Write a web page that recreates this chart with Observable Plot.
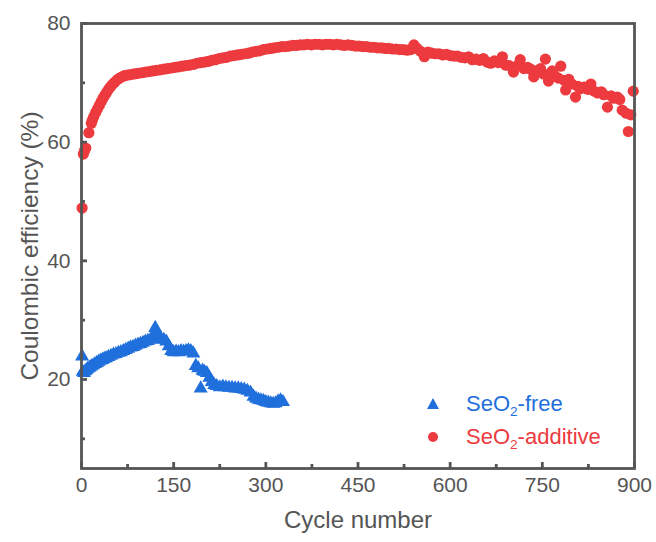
<!DOCTYPE html>
<html>
<head>
<meta charset="utf-8">
<script src="https://cdn.jsdelivr.net/npm/d3@7"></script>
<script src="https://cdn.jsdelivr.net/npm/@observablehq/plot@0.6"></script>
<style>
  html, body { margin: 0; padding: 0; background: #fff; }
  #wrap { position: relative; width: 656px; height: 542px; font-family: "Liberation Sans", Arial, sans-serif; }
  .leg { position: absolute; left: 0; top: 0; font-size: 22px; }
  .row { position: absolute; display: flex; align-items: center; white-space: nowrap; }
  .row sub { font-size: 0.62em; vertical-align: -0.35em; line-height: 0; }
</style>
</head>
<body>
<div id="wrap"></div>
<script>
// Series: SeO2-free (blue triangles)
const freeCycles = [1, 2, 4, 6, 8, 10, 13, 16, 19, 22, 25, 28, 31, 34, 37, 40, 44, 48, 52, 56, 60, 64, 68, 72, 76, 80, 84, 88, 92, 96, 100, 104, 108, 112, 116, 120, 123, 126, 130, 134, 138, 142, 146, 150, 154, 158, 162, 166, 170, 174, 178, 182, 186, 190, 194, 197, 200, 204, 208, 212, 216, 220, 225, 230, 235, 240, 245, 250, 255, 260, 265, 270, 275, 280, 284, 288, 292, 296, 300, 304, 308, 312, 316, 320, 324, 328];
const freeValues = [23.9, 21.3, 21.1, 21.4, 21.6, 21.8, 22.0, 22.2, 22.4, 22.6, 22.8, 23.0, 23.2, 23.3, 23.5, 23.6, 23.8, 24.0, 24.2, 24.3, 24.5, 24.6, 24.8, 25.0, 25.2, 25.4, 25.5, 25.7, 25.9, 26.0, 26.2, 26.4, 26.5, 26.7, 27.2, 28.7, 27.8, 27.2, 26.8, 26.7, 26.4, 25.6, 24.8, 24.6, 24.7, 24.6, 24.8, 24.7, 24.8, 24.9, 24.8, 24.4, 22.3, 21.9, 18.5, 21.5, 21.3, 21.1, 20.3, 19.6, 19.1, 18.9, 18.7, 18.8, 18.7, 18.6, 18.6, 18.5, 18.5, 18.4, 18.3, 18.1, 17.8, 17.1, 16.8, 16.6, 16.5, 16.4, 16.2, 16.1, 16.0, 15.9, 16.0, 16.3, 16.5, 16.2];

// Series: SeO2-additive (red circles)
const addCycles = [1, 3, 5, 7, 12, 16, 18, 20, 23, 26, 29, 32, 35, 38, 41, 44, 47, 50, 54, 58, 62, 66, 70, 75, 80, 86, 92, 98, 104, 110, 116, 122, 128, 134, 140, 146, 152, 158, 164, 170, 176, 182, 188, 194, 200, 206, 212, 218, 224, 230, 236, 242, 248, 254, 260, 266, 272, 278, 284, 290, 296, 302, 308, 314, 320, 326, 332, 338, 344, 350, 356, 362, 368, 374, 380, 386, 392, 398, 404, 410, 416, 422, 428, 434, 440, 446, 452, 458, 464, 470, 476, 482, 488, 494, 500, 506, 512, 518, 524, 530, 536, 541, 546, 552, 558, 564, 570, 576, 582, 588, 594, 600, 606, 612, 618, 624, 630, 636, 642, 648, 654, 660, 666, 672, 678, 685, 690, 696, 703, 708, 714, 720, 726, 731, 736, 741, 747, 752, 755, 760, 766, 770, 776, 780, 786, 788, 793, 798, 804, 808, 812, 818, 824, 829, 834, 840, 846, 850, 856, 862, 866, 872, 876, 880, 886, 890, 894, 898];
const addValues = [48.9, 58.0, 58.6, 59.0, 61.6, 63.2, 63.8, 64.3, 65.0, 65.6, 66.2, 66.8, 67.4, 67.9, 68.4, 68.9, 69.3, 69.7, 70.1, 70.5, 70.8, 71.0, 71.2, 71.3, 71.4, 71.5, 71.6, 71.7, 71.8, 71.9, 72.0, 72.1, 72.2, 72.3, 72.4, 72.5, 72.6, 72.7, 72.8, 72.9, 73.0, 73.1, 73.3, 73.4, 73.5, 73.6, 73.8, 73.9, 74.1, 74.2, 74.3, 74.5, 74.6, 74.7, 74.8, 74.9, 75.0, 75.2, 75.3, 75.4, 75.6, 75.7, 75.8, 75.9, 76.0, 76.1, 76.1, 76.2, 76.3, 76.3, 76.4, 76.4, 76.5, 76.4, 76.5, 76.5, 76.4, 76.5, 76.5, 76.4, 76.5, 76.4, 76.3, 76.4, 76.3, 76.2, 76.2, 76.1, 76.1, 76.0, 76.0, 75.9, 75.9, 75.8, 75.8, 75.7, 75.7, 75.6, 75.6, 75.5, 75.6, 76.4, 75.8, 75.3, 74.4, 75.2, 75.0, 74.9, 74.9, 74.7, 74.8, 74.6, 74.5, 74.5, 74.3, 74.2, 74.4, 73.9, 74.0, 73.8, 74.1, 73.5, 73.3, 73.7, 73.4, 74.4, 73.0, 72.9, 71.8, 72.8, 73.9, 72.4, 72.6, 72.3, 71.0, 72.0, 72.4, 71.5, 74.0, 70.3, 72.0, 71.2, 70.8, 72.8, 70.4, 68.8, 70.6, 69.8, 67.6, 69.4, 69.0, 69.3, 68.9, 69.8, 68.6, 68.3, 68.5, 68.0, 65.9, 67.8, 67.4, 67.6, 67.2, 65.4, 64.9, 61.8, 64.6, 68.6];

// Axis ticks
const xMajor = [0, 150, 300, 450, 600, 750, 900];
const xMinor = [75, 225, 375, 525, 675, 825];
const yMajor = [20, 40, 60, 80];
const yMinor = [10, 30, 50, 70];

const seriesNames = ["SeO2-free", "SeO2-additive"];
const colors = {free: "#1f6fdc", add: "#ec3a3e"};

const freeData = freeCycles.map((c, i) => ({cycle: c, ce: freeValues[i]}));
const addData = addCycles.map((c, i) => ({cycle: c, ce: addValues[i]}));

const axisColor = "#555";

const chart = Plot.plot({
  width: 656,
  height: 542,
  marginLeft: 81,
  marginRight: 22,
  marginTop: 23,
  marginBottom: 74,
  x: {domain: [0, 900]},
  y: {domain: [5, 80]},
  style: {fontFamily: "'Liberation Sans', Arial, sans-serif", fontSize: "21px", color: axisColor, background: "white", overflow: "visible"},
  marks: [
    Plot.dot(addData, {x: "cycle", y: "ce", r: 5.6, fill: colors.add, stroke: "none"}),
    Plot.dot(freeData, {x: "cycle", y: "ce", symbol: "triangle", r: 5.2, fill: colors.free, stroke: "none"}),
    Plot.frame({stroke: axisColor, strokeWidth: 2.8}),
    Plot.axisX(xMajor, {tickSize: -6, tickPadding: 15, strokeWidth: 2.8, stroke: axisColor, fill: axisColor, fontSize: 21, label: null, tickFormat: d => String(d)}),
    Plot.axisX(xMinor, {tickSize: -4, tickPadding: 0, strokeWidth: 2.8, stroke: axisColor, label: null, tickFormat: () => ""}),
    Plot.axisY(yMajor, {tickSize: -6, tickPadding: 17, strokeWidth: 2.8, stroke: axisColor, fill: axisColor, fontSize: 21, label: null, tickFormat: d => String(d)}),
    Plot.axisY(yMinor, {tickSize: -4, tickPadding: 0, strokeWidth: 2.8, stroke: axisColor, label: null, tickFormat: () => ""}),
    Plot.text(["Cycle number"], {frameAnchor: "bottom", dy: 59, fontSize: 24, fill: axisColor, textAnchor: "middle"}),
    Plot.text(["Coulombic efficiency (%)"], {frameAnchor: "left", rotate: -90, dx: -51, fontSize: 24.5, fill: axisColor, textAnchor: "middle"})
  ]
});

const wrap = document.getElementById("wrap");
wrap.appendChild(chart);

// Legend (overlaid inside the plot frame, bottom right)
const leg = document.createElement("div");
leg.className = "leg";
const entries = [
  {name: seriesNames[0], color: colors.free, shape: "tri", top: 404},
  {name: seriesNames[1], color: colors.add, shape: "dot", top: 437}
];
for (const e of entries) {
  const row = document.createElement("div");
  row.className = "row";
  row.style.left = "425px";
  row.style.top = (e.top - 14) + "px";
  row.style.height = "28px";
  row.style.color = e.color;
  const sym = e.shape === "tri"
    ? `<svg width="16" height="16" style="margin-right:25px"><path d="M8,2 L14,13 L2,13 Z" fill="${e.color}"/></svg>`
    : `<svg width="16" height="16" style="margin-right:25px"><circle cx="8" cy="8" r="5" fill="${e.color}"/></svg>`;
  const parts = e.name.split("2");
  row.innerHTML = sym + `<span>${parts[0]}<sub>2</sub>${parts[1]}</span>`;
  leg.appendChild(row);
}
wrap.appendChild(leg);
</script>
</body>
</html>
